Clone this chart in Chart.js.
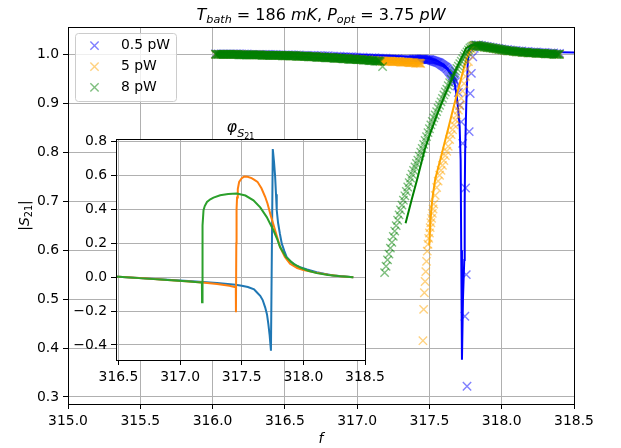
<!DOCTYPE html>
<html>
<head>
<meta charset="utf-8">
<script src="https://cdn.jsdelivr.net/npm/chart.js@4.4.1/dist/chart.umd.min.js"></script>
<style>
  html, body { margin: 0; padding: 0; background: #fff; }
  #wrap { position: relative; width: 621px; height: 448px; }
  #wrap canvas { position: absolute; left: 0; top: 0; }
</style>
</head>
<body>
<div id="wrap">
  <canvas id="mainChart" width="621" height="448"></canvas>
  <canvas id="insetChart" width="621" height="448"></canvas>
</div>
<script>
// ---- data ----
const powerLabels = ['0.5 pW', '5 pW', '8 pW'];
const xTicks = [315.0, 315.5, 316.0, 316.5, 317.0, 317.5, 318.0, 318.5];
const yTicks = [0.3, 0.4, 0.5, 0.6, 0.7, 0.8, 0.9, 1.0];
const insetXTicks = [316.5, 317.0, 317.5, 318.0, 318.5];
const insetYTicks = [-0.4, -0.2, 0.0, 0.2, 0.4, 0.6, 0.8];

// 0.5 pW measured |S21|
const freq05 = [
  316.02, 316.04, 316.06, 316.08, 316.10, 316.12, 316.14, 316.16, 316.18, 316.20,
  316.22, 316.24, 316.26, 316.28, 316.30, 316.32, 316.34, 316.36, 316.38, 316.40,
  316.42, 316.44, 316.46, 316.48, 316.50, 316.52, 316.54, 316.56, 316.58, 316.60,
  316.62, 316.64, 316.66, 316.68, 316.70, 316.72, 316.74, 316.76, 316.78, 316.80,
  316.82, 316.84, 316.86, 316.88, 316.90, 316.92, 316.94, 316.96, 316.98, 317.00,
  317.02, 317.04, 317.06, 317.08, 317.10, 317.12, 317.14, 317.16, 317.18, 317.20,
  317.22, 317.24, 317.26, 317.28, 317.30, 317.32, 317.34, 317.36, 317.38,
  317.390, 317.395, 317.400, 317.405, 317.410, 317.415, 317.420, 317.425, 317.430, 317.435,
  317.440, 317.445, 317.450, 317.455, 317.460, 317.465, 317.470, 317.475, 317.480, 317.485,
  317.490, 317.495, 317.500, 317.505, 317.510, 317.515, 317.520, 317.525, 317.530, 317.535,
  317.540, 317.545, 317.550, 317.555, 317.560, 317.565, 317.570, 317.575, 317.580, 317.585,
  317.590, 317.595, 317.600, 317.605, 317.610, 317.615, 317.620, 317.625, 317.630, 317.635,
  317.640, 317.645, 317.650, 317.655, 317.660, 317.665, 317.670, 317.675, 317.680,
  317.69, 317.70, 317.71, 317.72, 317.73, 317.745, 317.75, 317.755, 317.76, 317.775,
  317.782, 317.79, 317.80, 317.81,
  317.82, 317.84, 317.86, 317.88, 317.90, 317.92, 317.94, 317.96, 317.98, 318.00,
  318.02, 318.04, 318.06, 318.08, 318.10, 318.12, 318.14, 318.16, 318.18, 318.20,
  318.22, 318.24, 318.26, 318.28, 318.30, 318.32, 318.34, 318.36, 318.38, 318.40
];
const s21_05 = [
  1.001, 1.001, 1.001, 1.001, 1.001, 1.001, 1.001, 1.001, 1.001, 1.001,
  1.001, 1.001, 1.000, 1.000, 1.000, 1.000, 1.000, 1.000, 1.000, 1.000,
  1.000, 1.000, 0.999, 0.999, 0.999, 0.999, 0.999, 0.999, 0.999, 0.999,
  0.998, 0.998, 0.998, 0.998, 0.998, 0.997, 0.997, 0.997, 0.997, 0.997,
  0.996, 0.996, 0.996, 0.996, 0.995, 0.995, 0.995, 0.995, 0.994, 0.994,
  0.994, 0.994, 0.993, 0.993, 0.993, 0.993, 0.992, 0.992, 0.992, 0.992,
  0.991, 0.991, 0.991, 0.991, 0.990, 0.990, 0.990, 0.990, 0.990,
  0.990, 0.990, 0.990, 0.990, 0.990, 0.990, 0.990, 0.990, 0.990, 0.990,
  0.990, 0.990, 0.990, 0.990, 0.990, 0.990, 0.989, 0.989, 0.989, 0.989,
  0.989, 0.989, 0.989, 0.989, 0.988, 0.988, 0.987, 0.987, 0.986, 0.986,
  0.985, 0.985, 0.984, 0.984, 0.983, 0.983, 0.982, 0.981, 0.980, 0.979,
  0.978, 0.977, 0.976, 0.975, 0.974, 0.973, 0.971, 0.970, 0.968, 0.966,
  0.964, 0.962, 0.960, 0.958, 0.956, 0.953, 0.950, 0.947, 0.944,
  0.935, 0.922, 0.896, 0.862, 0.818, 0.465, 0.727, 0.550, 0.322, 0.842,
  0.920, 0.961, 0.995, 1.012,
  1.019, 1.019, 1.018, 1.017, 1.016, 1.015, 1.014, 1.013, 1.012, 1.011,
  1.010, 1.010, 1.009, 1.008, 1.008, 1.007, 1.007, 1.006, 1.006, 1.005,
  1.005, 1.005, 1.004, 1.004, 1.004, 1.003, 1.003, 1.003, 1.002, 1.002
];

// 5 pW measured |S21|
const freq5 = [
  316.02, 316.04, 316.06, 316.08, 316.10, 316.12, 316.14, 316.16, 316.18, 316.20,
  316.22, 316.24, 316.26, 316.28, 316.30, 316.32, 316.34, 316.36, 316.38, 316.40,
  316.42, 316.44, 316.46, 316.48, 316.50, 316.52, 316.54, 316.56, 316.58, 316.60,
  316.62, 316.64, 316.66, 316.68, 316.70, 316.72, 316.74, 316.76, 316.78, 316.80,
  316.82, 316.84, 316.86, 316.88, 316.90, 316.92, 316.94, 316.96, 316.98, 317.00,
  317.02, 317.04, 317.06, 317.08, 317.10, 317.12, 317.14, 317.16,
  317.170, 317.175, 317.180, 317.185, 317.190, 317.195, 317.200, 317.205, 317.210, 317.215,
  317.220, 317.225, 317.230, 317.235, 317.240, 317.245, 317.250, 317.255, 317.260, 317.265,
  317.270, 317.275, 317.280, 317.285, 317.290, 317.295, 317.300, 317.305, 317.310, 317.315,
  317.320, 317.325, 317.330, 317.335, 317.340, 317.345, 317.350, 317.355, 317.360, 317.365,
  317.370, 317.375, 317.380, 317.385, 317.390, 317.395, 317.400, 317.405, 317.410, 317.415,
  317.420, 317.425, 317.430, 317.435, 317.440,
  317.455, 317.46, 317.465, 317.47, 317.475, 317.48, 317.485, 317.49, 317.495, 317.50,
  317.505, 317.51, 317.515, 317.52, 317.525, 317.53, 317.54, 317.55, 317.56, 317.57,
  317.58, 317.59, 317.60, 317.61, 317.62, 317.63, 317.64, 317.65, 317.66, 317.67,
  317.68, 317.69, 317.70, 317.71, 317.72, 317.73, 317.74, 317.75, 317.76, 317.77,
  317.78, 317.79, 317.80, 317.81,
  317.82, 317.84, 317.86, 317.88, 317.90, 317.92, 317.94, 317.96, 317.98, 318.00,
  318.02, 318.04, 318.06, 318.08, 318.10, 318.12, 318.14, 318.16, 318.18, 318.20,
  318.22, 318.24, 318.26, 318.28, 318.30, 318.32, 318.34, 318.36, 318.38, 318.40
];
const s21_5 = [
  1.000, 1.000, 1.000, 1.000, 1.000, 1.000, 1.000, 1.000, 1.000, 1.000,
  0.999, 0.999, 0.999, 0.999, 0.999, 0.999, 0.999, 0.999, 0.998, 0.998,
  0.998, 0.998, 0.998, 0.998, 0.997, 0.997, 0.997, 0.997, 0.997, 0.996,
  0.996, 0.996, 0.996, 0.995, 0.995, 0.995, 0.995, 0.994, 0.994, 0.994,
  0.993, 0.993, 0.993, 0.992, 0.992, 0.992, 0.991, 0.991, 0.991, 0.990,
  0.990, 0.989, 0.989, 0.989, 0.988, 0.988, 0.987, 0.987,
  0.986, 0.986, 0.986, 0.986, 0.986, 0.986, 0.986, 0.986, 0.986, 0.986,
  0.986, 0.986, 0.986, 0.986, 0.985, 0.985, 0.985, 0.985, 0.985, 0.985,
  0.985, 0.985, 0.985, 0.985, 0.985, 0.985, 0.984, 0.984, 0.984, 0.984,
  0.984, 0.984, 0.984, 0.984, 0.984, 0.984, 0.984, 0.984, 0.983, 0.983,
  0.983, 0.983, 0.983, 0.983, 0.983, 0.983, 0.982, 0.982, 0.982, 0.982,
  0.982, 0.982, 0.982, 0.982, 0.981,
  0.415, 0.479, 0.513, 0.536, 0.556, 0.577, 0.598, 0.612, 0.624, 0.635,
  0.646, 0.656, 0.665, 0.675, 0.684, 0.694, 0.712, 0.728, 0.741, 0.753,
  0.763, 0.773, 0.783, 0.793, 0.802, 0.812, 0.826, 0.836, 0.846, 0.856,
  0.866, 0.876, 0.886, 0.895, 0.910, 0.925, 0.940, 0.955, 0.970, 0.985,
  1.000, 1.010, 1.016, 1.018,
  1.018, 1.017, 1.016, 1.015, 1.014, 1.013, 1.012, 1.011, 1.010, 1.009,
  1.008, 1.007, 1.007, 1.006, 1.005, 1.005, 1.004, 1.004, 1.003, 1.003,
  1.003, 1.002, 1.002, 1.002, 1.001, 1.001, 1.001, 1.000, 1.000, 1.000
];

// 8 pW measured |S21|
const freq8 = [
  316.020, 316.025, 316.030, 316.035, 316.040, 316.045, 316.050, 316.055, 316.060, 316.065,
  316.070, 316.075, 316.080, 316.085, 316.090, 316.095, 316.100, 316.105, 316.110, 316.115,
  316.120, 316.125, 316.130, 316.135, 316.140, 316.145, 316.150, 316.155, 316.160, 316.165,
  316.170, 316.175, 316.180, 316.185, 316.190, 316.195, 316.200, 316.205, 316.210, 316.215,
  316.220, 316.225, 316.230, 316.235, 316.240, 316.245, 316.250, 316.255, 316.260, 316.265,
  316.270, 316.275, 316.280, 316.285, 316.290, 316.295, 316.300, 316.305, 316.310, 316.315,
  316.320, 316.325, 316.330, 316.335, 316.340, 316.345, 316.350, 316.355, 316.360, 316.365,
  316.370, 316.375, 316.380, 316.385, 316.390, 316.395, 316.400, 316.405, 316.410, 316.415,
  316.420, 316.425, 316.430, 316.435, 316.440, 316.445, 316.450, 316.455, 316.460, 316.465,
  316.470, 316.475, 316.480, 316.485, 316.490, 316.495, 316.500, 316.505, 316.510, 316.515,
  316.520, 316.525, 316.530, 316.535, 316.540, 316.545, 316.550, 316.555, 316.560, 316.565,
  316.570, 316.575, 316.580, 316.585, 316.590, 316.595, 316.600, 316.605, 316.610, 316.615,
  316.620, 316.625, 316.630, 316.635, 316.640, 316.645, 316.650, 316.655, 316.660, 316.665,
  316.670, 316.675, 316.680, 316.685, 316.690, 316.695, 316.700, 316.705, 316.710, 316.715,
  316.720, 316.725, 316.730, 316.735, 316.740, 316.745, 316.750, 316.755, 316.760, 316.765,
  316.770, 316.775, 316.780, 316.785, 316.790, 316.795, 316.800, 316.805, 316.810, 316.815,
  316.820, 316.825, 316.830, 316.835, 316.840, 316.845, 316.850, 316.855, 316.860, 316.865,
  316.870, 316.875, 316.880, 316.885, 316.890, 316.895, 316.900, 316.905, 316.910, 316.915,
  316.920, 316.925, 316.930, 316.935, 316.940, 316.945, 316.950, 316.955, 316.960, 316.965,
  316.970, 316.975, 316.980, 316.985, 316.990, 316.995, 317.000, 317.005, 317.010, 317.015,
  317.020, 317.025, 317.030, 317.035, 317.040, 317.045, 317.050, 317.055, 317.060, 317.065,
  317.070, 317.075, 317.080, 317.085, 317.090, 317.095, 317.100, 317.105, 317.110, 317.115,
  317.120, 317.125, 317.130, 317.135, 317.140, 317.145, 317.150, 317.155, 317.160,
  317.176,
  317.19, 317.20, 317.21, 317.22, 317.23, 317.24, 317.25, 317.26, 317.27, 317.28,
  317.29, 317.30, 317.31, 317.32, 317.33, 317.34, 317.35, 317.36, 317.37, 317.38,
  317.39, 317.40, 317.41, 317.42, 317.43, 317.44, 317.45, 317.46, 317.47, 317.48,
  317.49, 317.50, 317.51, 317.52, 317.53, 317.54, 317.55, 317.56, 317.57, 317.58,
  317.59, 317.60, 317.61, 317.62, 317.63, 317.64, 317.65, 317.66, 317.67, 317.68,
  317.69, 317.70, 317.71, 317.72, 317.73, 317.74, 317.75, 317.76, 317.77, 317.78,
  317.79, 317.80, 317.81,
  317.820, 317.825, 317.830, 317.835, 317.840, 317.845, 317.850, 317.855, 317.860, 317.865,
  317.870, 317.875, 317.880, 317.885, 317.890, 317.895, 317.900, 317.905, 317.910, 317.915,
  317.920, 317.925, 317.930, 317.935, 317.940, 317.945, 317.950, 317.955, 317.960, 317.965,
  317.970, 317.975, 317.980, 317.985, 317.990, 317.995, 318.000, 318.005, 318.010, 318.015,
  318.020, 318.025, 318.030, 318.035, 318.040, 318.045, 318.050, 318.055, 318.060, 318.065,
  318.070, 318.075, 318.080, 318.085, 318.090, 318.095, 318.100, 318.105, 318.110, 318.115,
  318.120, 318.125, 318.130, 318.135, 318.140, 318.145, 318.150, 318.155, 318.160, 318.165,
  318.170, 318.175, 318.180, 318.185, 318.190, 318.195, 318.200, 318.205, 318.210, 318.215,
  318.220, 318.225, 318.230, 318.235, 318.240, 318.245, 318.250, 318.255, 318.260, 318.265,
  318.270, 318.275, 318.280, 318.285, 318.290, 318.295, 318.300, 318.305, 318.310, 318.315,
  318.320, 318.325, 318.330, 318.335, 318.340, 318.345, 318.350, 318.355, 318.360, 318.365,
  318.370, 318.375, 318.380, 318.385, 318.390, 318.395, 318.400
];
const s21_8 = [
  1.000, 1.000, 1.000, 1.000, 1.000, 1.000, 1.000, 1.000, 1.000, 1.000,
  1.000, 1.000, 1.000, 1.000, 1.000, 1.000, 1.000, 1.000, 1.000, 1.000,
  1.000, 1.000, 1.000, 1.000, 1.000, 1.000, 1.000, 1.000, 1.000, 1.000,
  1.000, 1.000, 0.999, 0.999, 0.999, 0.999, 0.999, 0.999, 0.999, 0.999,
  0.999, 0.999, 0.999, 0.999, 0.999, 0.999, 0.999, 0.999, 0.999, 0.999,
  0.999, 0.999, 0.999, 0.999, 0.999, 0.999, 0.999, 0.999, 0.999, 0.999,
  0.999, 0.999, 0.999, 0.999, 0.998, 0.998, 0.998, 0.998, 0.998, 0.998,
  0.998, 0.998, 0.998, 0.998, 0.998, 0.998, 0.998, 0.998, 0.998, 0.998,
  0.998, 0.998, 0.998, 0.998, 0.998, 0.998, 0.998, 0.998, 0.998, 0.998,
  0.998, 0.998, 0.997, 0.997, 0.997, 0.997, 0.997, 0.997, 0.997, 0.997,
  0.997, 0.997, 0.997, 0.997, 0.997, 0.997, 0.997, 0.997, 0.997, 0.997,
  0.997, 0.997, 0.996, 0.996, 0.996, 0.996, 0.996, 0.996, 0.996, 0.996,
  0.996, 0.996, 0.996, 0.996, 0.996, 0.996, 0.996, 0.996, 0.995, 0.995,
  0.995, 0.995, 0.995, 0.995, 0.995, 0.995, 0.995, 0.995, 0.995, 0.995,
  0.994, 0.994, 0.994, 0.994, 0.994, 0.994, 0.994, 0.994, 0.994, 0.994,
  0.994, 0.994, 0.993, 0.993, 0.993, 0.993, 0.993, 0.993, 0.993, 0.993,
  0.993, 0.993, 0.993, 0.993, 0.992, 0.992, 0.992, 0.992, 0.992, 0.992,
  0.992, 0.992, 0.992, 0.992, 0.992, 0.992, 0.991, 0.991, 0.991, 0.991,
  0.991, 0.991, 0.991, 0.991, 0.990, 0.990, 0.990, 0.990, 0.990, 0.990,
  0.990, 0.990, 0.990, 0.990, 0.990, 0.990, 0.989, 0.989, 0.989, 0.989,
  0.989, 0.989, 0.989, 0.989, 0.988, 0.988, 0.988, 0.988, 0.988, 0.988,
  0.988, 0.988, 0.987, 0.987, 0.987, 0.987, 0.987, 0.987, 0.987, 0.987,
  0.986, 0.986, 0.986, 0.986, 0.986, 0.986, 0.986, 0.986, 0.985,
  0.975,
  0.554, 0.567, 0.580, 0.592, 0.604, 0.616, 0.628, 0.639, 0.650, 0.661,
  0.672, 0.682, 0.692, 0.702, 0.711, 0.720, 0.729, 0.738, 0.747, 0.755,
  0.763, 0.770, 0.777, 0.784, 0.792, 0.800, 0.808, 0.816, 0.824, 0.832,
  0.840, 0.848, 0.856, 0.863, 0.870, 0.876, 0.883, 0.890, 0.896, 0.903,
  0.910, 0.917, 0.923, 0.929, 0.936, 0.942, 0.949, 0.955, 0.961, 0.966,
  0.971, 0.976, 0.981, 0.986, 0.991, 0.996, 1.001, 1.005, 1.009, 1.013,
  1.015, 1.017, 1.018,
  1.018, 1.018, 1.018, 1.018, 1.017, 1.017, 1.017, 1.017, 1.016, 1.016,
  1.016, 1.016, 1.015, 1.015, 1.015, 1.015, 1.014, 1.014, 1.014, 1.014,
  1.013, 1.013, 1.013, 1.013, 1.012, 1.012, 1.012, 1.012, 1.011, 1.011,
  1.011, 1.011, 1.010, 1.010, 1.010, 1.010, 1.009, 1.009, 1.009, 1.009,
  1.008, 1.008, 1.008, 1.008, 1.007, 1.007, 1.007, 1.007, 1.007, 1.007,
  1.007, 1.007, 1.006, 1.006, 1.006, 1.006, 1.005, 1.005, 1.005, 1.005,
  1.005, 1.005, 1.005, 1.005, 1.004, 1.004, 1.004, 1.004, 1.004, 1.004,
  1.004, 1.004, 1.003, 1.003, 1.003, 1.003, 1.003, 1.003, 1.003, 1.003,
  1.003, 1.003, 1.003, 1.003, 1.002, 1.002, 1.002, 1.002, 1.002, 1.002,
  1.002, 1.002, 1.002, 1.002, 1.002, 1.002, 1.001, 1.001, 1.001, 1.001,
  1.001, 1.001, 1.001, 1.001, 1.001, 1.001, 1.001, 1.001, 1.000, 1.000,
  1.000, 1.000, 1.000, 1.000, 1.000, 1.000, 1.000
];

// fitted |S21| curves (null = gap)
const fitFreq05 = [316.02, 316.30, 316.60, 316.90, 317.10, 317.30, 317.40, 317.50, 317.55, 317.60,
  317.63, 317.655, 317.674, 317.690, 317.697, 317.709, 317.716, 317.720, 317.725, 317.732,
  317.741, 317.744, 317.747, 317.755, 317.766, 317.778, 317.80, 317.85, 317.90, 318.00,
  318.10, 318.20, 318.30, 318.40, 318.60];
const fitS21_05 = [1.003, 1.003, 1.002, 1.000, 0.998, 0.996, 0.994, 0.991, 0.987, 0.979,
  0.970, 0.957, 0.941, 0.912, 0.893, 0.853, 0.784, 0.600, 0.376, 0.500,
  0.580, 0.700, 0.800, 0.900, 0.988, 1.017, 1.021, 1.019, 1.016, 1.012,
  1.009, 1.007, 1.005, 1.004, 1.003];
const fitFreq5 = [316.02, 316.50, 316.90, 317.10, 317.30, 317.46, 317.48,
  317.499, 317.505, 317.515, 317.525, 317.54, 317.56, 317.58, 317.60, 317.628, 317.65,
  317.674, 317.709, 317.755, 317.792, 317.85, 317.95, 318.10, 318.25, 318.40];
const fitS21_5 = [1.000, 0.997, 0.992, 0.988, 0.984, 0.981, null,
  0.610, 0.650, 0.690, 0.715, 0.745, 0.768, 0.790, 0.814, 0.846, 0.872,
  0.900, 0.940, 0.990, 1.016, 1.016, 1.011, 1.005, 1.002, 1.000];
const fitFreq8 = [316.02, 316.50, 316.90, 317.16, 317.25,
  317.335, 317.377, 317.418, 317.467, 317.51, 317.557, 317.60, 317.651, 317.70, 317.755,
  317.792, 317.85, 317.95, 318.05, 318.20, 318.40];
const fitS21_8 = [1.000, 0.997, 0.991, 0.985, null,
  0.655, 0.703, 0.748, 0.805, 0.842, 0.880, 0.912, 0.947, 0.980, 1.013,
  1.019, 1.017, 1.012, 1.008, 1.003, 1.000];

// inset: phase of S21
const phaseFreq05 = [316.40, 316.50, 316.70, 316.90, 317.10, 317.30, 317.45, 317.50, 317.55, 317.60,
  317.622, 317.65, 317.67, 317.69, 317.705, 317.716, 317.726, 317.733, 317.737, 317.752,
  317.762, 317.771, 317.778, 317.784, 317.795, 317.81, 317.825, 317.845, 317.865, 317.90,
  317.94, 317.973, 318.03, 318.108, 318.17, 318.243, 318.32, 318.405];
const phase05 = [0.004, 0.002, -0.006, -0.015, -0.024, -0.034, -0.044, -0.050, -0.058, -0.072,
  -0.089, -0.110, -0.135, -0.178, -0.220, -0.277, -0.340, -0.400, -0.434, 0.757,
  0.680, 0.593, 0.490, 0.395, 0.320, 0.255, 0.198, 0.155, 0.119, 0.090,
  0.070, 0.059, 0.045, 0.030, 0.020, 0.010, 0.005, 0.000];
const phaseFreq5 = [316.40, 316.50, 316.70, 316.90, 317.10, 317.20, 317.30, 317.40, 317.452, 317.453,
  317.456, 317.458, 317.462, 317.468, 317.479, 317.50, 317.52, 317.547, 317.58, 317.60,
  317.628, 317.66, 317.69, 317.709, 317.735, 317.763, 317.79, 317.811, 317.85, 317.892,
  317.95, 318.00, 318.10, 318.20, 318.30, 318.405];
const phase5 = [0.004, 0.002, -0.006, -0.016, -0.027, -0.033, -0.040, -0.050, -0.059, -0.207,
  0.200, 0.400, 0.470, 0.520, 0.563, 0.585, 0.594, 0.593, 0.585, 0.576,
  0.563, 0.525, 0.475, 0.435, 0.365, 0.296, 0.230, 0.178, 0.120, 0.079,
  0.054, 0.042, 0.027, 0.015, 0.006, 0.000];
const phaseFreq8 = [316.40, 316.50, 316.70, 316.90, 317.05, 317.177, 317.178, 317.182, 317.190, 317.200,
  317.218, 317.245, 317.271, 317.325, 317.39, 317.46, 317.53, 317.595, 317.65, 317.703,
  317.757, 317.79, 317.811, 317.86, 317.919, 317.98, 318.04, 318.108, 318.20, 318.30,
  318.405];
const phase8 = [0.004, 0.002, -0.007, -0.017, -0.024, -0.032, -0.148, 0.306, 0.395, 0.420,
  0.444, 0.460, 0.470, 0.484, 0.491, 0.494, 0.482, 0.454, 0.412, 0.355,
  0.277, 0.220, 0.178, 0.118, 0.079, 0.055, 0.038, 0.024, 0.013, 0.005,
  0.000];

// ---- styling ----
const FONT = "'DejaVu Sans', sans-serif";
const markerColors = ['rgba(0,0,255,0.5)', 'rgba(255,165,0,0.5)', 'rgba(0,128,0,0.5)'];
const lineColors = ['#0000ff', '#ffa500', '#008000'];
const phaseColors = ['#1f77b4', '#ff7f0e', '#2ca02c'];

function pts(fs, vs) {
  return fs.map(function (f, i) { return { x: f, y: vs[i] }; });
}
function fmt(v) {
  return v.toFixed(1).replace('-', '\u2212');
}
function axis(min, max, ticks, fit) {
  return {
    type: 'linear', min: min, max: max,
    afterBuildTicks: function (s) { s.ticks = ticks.map(function (v) { return { value: v }; }); },
    afterFit: fit,
    grid: { color: '#b0b0b0', lineWidth: 1, tickLength: 5, tickColor: '#000', tickWidth: 1 },
    border: { display: false },
    ticks: { color: '#000', font: { family: FONT, size: 13.9 }, padding: 4, maxRotation: 0, autoSkip: false,
             callback: function (v) { return fmt(v); } }
  };
}

// draw text made of pieces (italic, subscripts)
function drawRich(ctx, parts, cx, base) {
  let total = 0;
  parts.forEach(function (p) {
    ctx.font = (p.it ? 'italic ' : '') + p.size + 'px ' + FONT;
    p.w = ctx.measureText(p.t).width;
    total += p.w;
  });
  let x = cx - total / 2;
  ctx.textAlign = 'left';
  ctx.textBaseline = 'alphabetic';
  parts.forEach(function (p) {
    ctx.font = (p.it ? 'italic ' : '') + p.size + 'px ' + FONT;
    ctx.fillText(p.t, x, base + (p.dy || 0));
    x += p.w;
  });
}

const mainDecor = {
  id: 'mainDecor',
  afterDraw: function (chart) {
    const ctx = chart.ctx, a = chart.chartArea;
    ctx.save();
    ctx.strokeStyle = '#000';
    ctx.lineWidth = 1;
    ctx.strokeRect(a.left + 0.5, a.top + 0.5, a.right - a.left, a.bottom - a.top);
    ctx.fillStyle = '#000';
    drawRich(ctx, [
      { t: 'T', it: true, size: 16 }, { t: 'bath', it: true, size: 11.2, dy: 3.5 },
      { t: ' = 186 ', size: 16 }, { t: 'mK', it: true, size: 16 }, { t: ', ', size: 16 },
      { t: 'P', it: true, size: 16 }, { t: 'opt', it: true, size: 11.2, dy: 3.5 },
      { t: ' = 3.75 ', size: 16 }, { t: 'pW', it: true, size: 16 }
    ], (a.left + a.right) / 2, 19.5);
    drawRich(ctx, [{ t: 'f', it: true, size: 13.9 }], (a.left + a.right) / 2, 443);
    ctx.save();
    ctx.translate(24, (a.top + a.bottom) / 2);
    ctx.rotate(-Math.PI / 2);
    drawRich(ctx, [
      { t: '|', size: 13.9 }, { t: 'S', it: true, size: 13.9 },
      { t: '21', size: 9.7, dy: 3 }, { t: '|', size: 13.9 }
    ], 0, 5);
    ctx.restore();

    // legend
    const bx = 75, by = 33, bw = 101, bh = 68;
    ctx.fillStyle = 'rgba(255,255,255,0.8)';
    ctx.strokeStyle = '#cccccc';
    ctx.beginPath();
    if (ctx.roundRect) ctx.roundRect(bx + 0.5, by + 0.5, bw, bh, 3); else ctx.rect(bx + 0.5, by + 0.5, bw, bh);
    ctx.fill();
    ctx.stroke();
    const rows = [45.7, 66.7, 87.3];
    powerLabels.forEach(function (lab, i) {
      const cx = 94.5, cy = rows[i], r = 4.15;
      ctx.strokeStyle = markerColors[i];
      ctx.lineWidth = 1.4;
      ctx.beginPath();
      ctx.moveTo(cx - r, cy - r); ctx.lineTo(cx + r, cy + r);
      ctx.moveTo(cx + r, cy - r); ctx.lineTo(cx - r, cy + r);
      ctx.stroke();
      ctx.fillStyle = '#000';
      ctx.font = '13.9px ' + FONT;
      ctx.textAlign = 'left';
      ctx.textBaseline = 'middle';
      ctx.fillText(lab, 121, cy);
    });
    ctx.restore();
  }
};

const seriesF = [freq05, freq5, freq8];
const seriesS = [s21_05, s21_5, s21_8];
const fitF = [fitFreq05, fitFreq5, fitFreq8];
const fitS = [fitS21_05, fitS21_5, fitS21_8];
const mainSets = [];
for (let i = 0; i < 3; i++) {
  mainSets.push({
    label: powerLabels[i], data: pts(seriesF[i], seriesS[i]), showLine: false,
    pointStyle: 'crossRot', pointRadius: 5.9, pointBorderWidth: 1.4, borderWidth: 1.4,
    borderColor: markerColors[i], pointBorderColor: markerColors[i], backgroundColor: 'transparent',
    order: 6 - 2 * i
  });
  mainSets.push({
    label: powerLabels[i] + ' fit', data: pts(fitF[i], fitS[i]), showLine: true, spanGaps: false,
    pointRadius: 0, borderColor: lineColors[i], borderWidth: 2, order: 5 - 2 * i
  });
}

new Chart(document.getElementById('mainChart'), {
  type: 'scatter',
  data: { datasets: mainSets },
  options: {
    responsive: false, animation: false, events: [],
    layout: { padding: { left: 0, top: 27, right: 47, bottom: 0 } },
    plugins: { legend: { display: false }, tooltip: { enabled: false } },
    scales: {
      x: axis(315.0, 318.5, xTicks, function (s) { s.height = 44; }),
      y: axis(0.2857, 1.0558, yTicks, function (s) { s.width = 68; })
    }
  },
  plugins: [mainDecor]
});

const insetDecor = {
  id: 'insetDecor',
  beforeDraw: function (chart) {
    const ctx = chart.ctx, a = chart.chartArea;
    ctx.save();
    ctx.fillStyle = '#fff';
    ctx.fillRect(a.left, a.top, a.right - a.left, a.bottom - a.top);
    ctx.restore();
  },
  afterDraw: function (chart) {
    const ctx = chart.ctx, a = chart.chartArea;
    ctx.save();
    ctx.strokeStyle = '#000';
    ctx.lineWidth = 1;
    ctx.strokeRect(a.left + 0.5, a.top + 0.5, a.right - a.left, a.bottom - a.top);
    ctx.fillStyle = '#000';
    drawRich(ctx, [
      { t: '\u03c6', it: true, size: 16 }, { t: 'S', it: true, size: 11.2, dy: 5 },
      { t: '21', size: 8, dy: 7 }
    ], (a.left + a.right) / 2, 131.5);
    ctx.restore();
  }
};

const phaseF = [phaseFreq05, phaseFreq5, phaseFreq8];
const phaseV = [phase05, phase5, phase8];
const insetSets = [];
for (let i = 0; i < 3; i++) {
  insetSets.push({
    label: powerLabels[i], data: pts(phaseF[i], phaseV[i]), showLine: true,
    pointRadius: 0, borderColor: phaseColors[i], borderWidth: 2, order: 3 - i
  });
}

new Chart(document.getElementById('insetChart'), {
  type: 'scatter',
  data: { datasets: insetSets },
  options: {
    responsive: false, animation: false, events: [],
    layout: { padding: { left: 0, top: 139, right: 256, bottom: 0 } },
    plugins: { legend: { display: false }, tooltip: { enabled: false } },
    scales: {
      x: axis(316.48, 318.5, insetXTicks, function (s) { s.height = 88; }),
      y: axis(-0.489, 0.816, insetYTicks, function (s) { s.width = 116; })
    }
  },
  plugins: [insetDecor]
});
</script>
</body>
</html>
